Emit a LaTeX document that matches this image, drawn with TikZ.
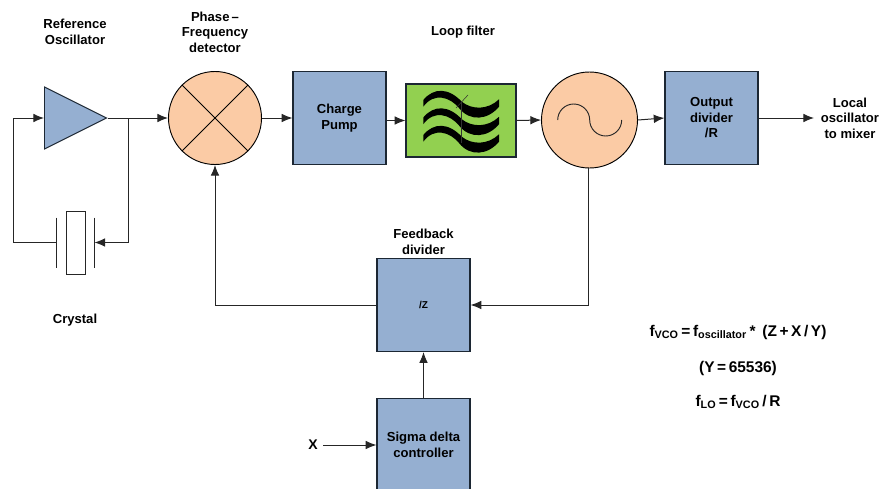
\documentclass[tikz,border=0pt]{standalone}
\usepackage{fontspec}
\setmainfont{Liberation Sans}
\usetikzlibrary{positioning, shapes.geometric, arrows.meta}
\definecolor{boxblue}{HTML}{95AFD1}
\definecolor{discorange}{HTML}{FBCBA5}
\definecolor{filtergreen}{HTML}{92D050}
\definecolor{edgedark}{HTML}{1C2733}
\tikzset{
  lbl/.style={font=\fontsize{9.8}{11.6}\selectfont\bfseries, align=center, inner sep=0pt},
  eqn/.style={font=\fontsize{11.6}{13}\selectfont\bfseries, inner sep=0pt},
  block/.style={draw=edgedark, line width=0.9pt, fill=boxblue, minimum size=69.75pt, inner sep=0pt, lbl},
  disc/.style={circle, draw=black, line width=0.7pt, fill=discorange, inner sep=0pt},
  wire/.style={draw=black!85, line width=0.75pt},
  flow/.style={wire, -{Latex[length=8pt,width=6.5pt]}},
}

\begin{document}
\begin{tikzpicture}[x=0.75pt, y=-0.75pt]
      \clip (0,0) rectangle (882,489);
      % blocks of the loop
      \node [isosceles triangle, isosceles triangle stretches, shape border rotate=0, draw=edgedark,
        line width=0.7pt, fill=boxblue, minimum width=46.5pt, minimum height=46.5pt, inner sep=0pt,
        anchor=west] (osc) at (44,118) {};
      \node [disc, minimum size=69.75pt] (pfd) at (215,118) {};
      \node [block] (pump) at (339.5,118) {Charge\\Pump};
      \node [draw=edgedark, line width=0.9pt, fill=filtergreen, minimum width=82.5pt, minimum height=54.75pt,
        inner sep=0pt] (filter) at (461,120.5) {};
      \node [disc, minimum size=72pt] (vco) at (589.5,120) {};
      \node [block] (outdiv) at (711.5,118) {Output\\divider\\/R};
      \node [block] (fbdiv) at (423.5,305) {\fontsize{7.5}{9}\selectfont /Z};
      \node [block] (sigma) at (423.5,445) {Sigma delta\\controller};
      % crystal
      \node [draw=black!85, line width=0.7pt, fill=white, minimum width=14.25pt, minimum height=47.25pt,
        inner sep=0pt] (xtal) at (75.5,242.5) {};
      \coordinate [left=6.75pt of xtal.west] (platel);
      \coordinate [right=6.75pt of xtal.east] (plater);
      \draw [black!85, line width=0.75pt] ([yshift=18.75pt]platel) -- ([yshift=-18.75pt]platel);
      \draw [black!85, line width=1.1pt] ([yshift=18.75pt]plater) -- ([yshift=-18.75pt]plater);
      % symbols inside the blocks
      \draw [black, line width=0.7pt] (pfd.north west) -- (pfd.south east);
      \draw [black, line width=0.7pt] (pfd.north east) -- (pfd.south west);
      \draw [black!85, line width=0.7pt] (557.7,120) arc (180:360:16) arc (180:0:16);
      \foreach \dy in {0,17.5,35} {
        \fill [black, yshift=-0.75*\dy pt] (423.3,100) .. controls (434,87) and (449,88) .. (461.7,101.7)
          .. controls (472,110) and (488,110) .. (499,99.3) -- (499,106.7)
          .. controls (488,120) and (470,122) .. (459,108)
          .. controls (450,97) and (434,92) .. (423.3,106.7) -- cycle;
      }
      \draw [black!80, line width=0.4pt] (461.7,101) -- (461.7,143);
      \draw [black!80, line width=0.4pt] (456,108) -- (468,95);
      % labels
      \node [lbl] (osclabel) at (75,32) {Reference\\Oscillator};
      \node [lbl] (pfdlabel) at (215,32) {Phase\,--\\Frequency\\detector};
      \node [lbl] (filterlabel) at (463,32) {Loop filter};
      \node [lbl] (xtallabel) at (75,320) {Crystal};
      \node [lbl, above=2.5pt of fbdiv] (fblabel) {Feedback\\divider};
      \node [lbl] (output) at (850,118) {Local\\oscillator\\to mixer};
      \node [lbl, font=\fontsize{10.5}{12}\selectfont\bfseries] (xin) at (313,445) {X};
      % formulas
      \node [eqn] (eqvco) at (738,332) {f\textsubscript{VCO}\,=\,f\textsubscript{oscillator}\,*\, (Z\,+\,X\,/\,Y)};
      \node [eqn] (eqy) at (738,368.5) {(Y\,=\,65536)};
      \node [eqn] (eqlo) at (738,402) {f\textsubscript{LO}\,=\,f\textsubscript{VCO}\,/\,R};
      % connectors
      \coordinate (tap) at (128,118);
      \coordinate (backl) at (13,118);
      \coordinate (outend) at (814,118);
      \draw [flow] (osc.east) -- (pfd.west);
      \draw [flow] (tap) |- (plater);
      \draw [wire] (platel) -| (backl);
      \draw [flow] (backl) -- (osc.west);
      \draw [flow] (pfd.east) -- (pump.west);
      \draw [flow] (pump.east |- filter.west) -- (filter.west);
      \draw [flow] (filter.east) -- (vco.west);
      \draw [flow] (vco.east) -- (outdiv.west);
      \draw [flow] (outdiv.east) -- (outend);
      \draw [flow] (vco.south -| 588,0) |- (fbdiv.east);
      \draw [flow] (fbdiv.west) -| (pfd.south);
      \draw [flow] (sigma.north) -- (fbdiv.south);
      \draw [flow] ([xshift=4pt]xin.east) -- (sigma.west);
    \end{tikzpicture}
\end{document}
